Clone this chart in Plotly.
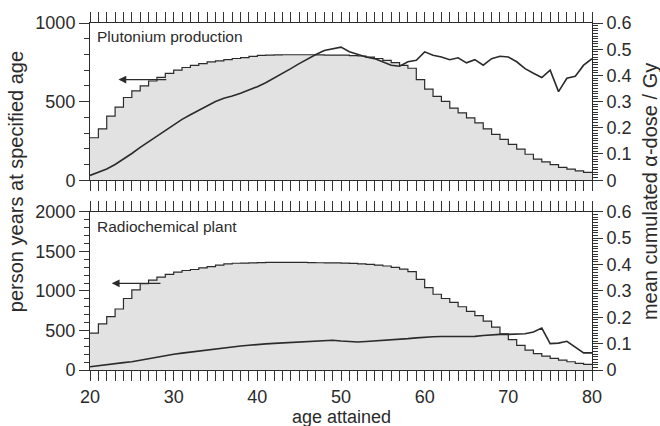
import plotly.graph_objects as go

# ---------------- data ----------------
ages_steps = list(range(20, 81))          # step edges 20..80
ages_dose = list(range(20, 81))

pu_person_years = [270, 327, 407, 465, 526, 568, 600, 631, 654, 679,
                   700, 717, 731, 742, 753, 759, 767, 774, 780, 788,
                   794, 796, 797, 798, 798, 798, 798, 797, 796, 796,
                   795, 793, 790, 783, 774, 762, 748, 730, 712, 640,
                   579, 533, 501, 459, 428, 396, 365, 327, 291, 260,
                   228, 197, 165, 134, 117, 99, 82, 71, 59, 50]
pu_dose = [0.018, 0.030, 0.043, 0.060, 0.080, 0.102, 0.125, 0.147, 0.169, 0.190,
           0.212, 0.232, 0.250, 0.267, 0.284, 0.300, 0.313, 0.321, 0.332, 0.344,
           0.357, 0.372, 0.389, 0.407, 0.426, 0.445, 0.464, 0.480, 0.495, 0.502,
           0.508, 0.490, 0.480, 0.470, 0.464, 0.452, 0.439, 0.435, 0.452, 0.458,
           0.490, 0.477, 0.470, 0.460, 0.467, 0.448, 0.460, 0.439, 0.464, 0.473,
           0.470, 0.452, 0.426, 0.408, 0.392, 0.420, 0.338, 0.389, 0.397, 0.439,
           0.464]

rc_person_years = [466, 583, 675, 771, 904, 1012, 1091, 1137, 1175, 1208,
                   1237, 1258, 1271, 1292, 1308, 1325, 1342, 1350, 1352, 1355,
                   1358, 1360, 1360, 1360, 1360, 1360, 1358, 1356, 1355, 1354,
                   1352, 1348, 1343, 1336, 1327, 1315, 1298, 1275, 1245, 1146,
                   1042, 958, 904, 854, 800, 742, 688, 617, 542, 458,
                   383, 312, 250, 208, 175, 146, 125, 104, 83, 71]
rc_dose = [0.0125, 0.017, 0.021, 0.025, 0.028, 0.031, 0.037, 0.044, 0.050, 0.055,
           0.060, 0.064, 0.068, 0.073, 0.077, 0.081, 0.084, 0.088, 0.091, 0.094,
           0.0975, 0.099, 0.101, 0.103, 0.105, 0.106, 0.108, 0.110, 0.1125, 0.113,
           0.110, 0.108, 0.106, 0.108, 0.110, 0.1125, 0.113, 0.115, 0.119, 0.122,
           0.125, 0.126, 0.127, 0.1275, 0.128, 0.128, 0.1275, 0.131, 0.134, 0.135,
           0.135, 0.136, 0.1375, 0.144, 0.159, 0.100, 0.102, 0.109, 0.0875, 0.065,
           0.065]

panel_labels = ["Plutonium production", "Radiochemical plant"]

# ---------------- layout geometry (pixels) ----------------
W, H = 660, 426
L, R, T, B = 90, 592, 19, 370
def px(x):
    return (x - L) / (R - L)
def py(y):
    return (B - y) / (B - T)

FONT = "Liberation Sans, Arial, Helvetica, sans-serif"
INK = "#2b2b2b"
TICK = "#333333"
FILL = "#e2e2e2"

fig = go.Figure()

def steps(vals):
    return vals + [vals[-1]]

# bottom panel (x, y left, y2 right)
fig.add_trace(go.Scatter(x=ages_steps, y=steps(rc_person_years), mode="lines",
                         line=dict(shape="hv", color=INK, width=1.2),
                         fill="tozeroy", fillcolor=FILL,
                         xaxis="x", yaxis="y"))
fig.add_trace(go.Scatter(x=ages_dose, y=rc_dose, mode="lines",
                         line=dict(color=INK, width=1.6),
                         xaxis="x", yaxis="y2"))
# top panel (x2, y3 left, y4 right)
fig.add_trace(go.Scatter(x=ages_steps, y=steps(pu_person_years), mode="lines",
                         line=dict(shape="hv", color=INK, width=1.2),
                         fill="tozeroy", fillcolor=FILL,
                         xaxis="x2", yaxis="y3"))
fig.add_trace(go.Scatter(x=ages_dose, y=pu_dose, mode="lines",
                         line=dict(color=INK, width=1.6),
                         xaxis="x2", yaxis="y4"))

top_dom = [py(178), 1.0]
bot_dom = [0.0, py(210)]

def minor(d):
    return dict(dtick=d, ticks="outside", ticklen=5, tickcolor=TICK, tickwidth=1)

xc = dict(range=[20, 80], showline=True, linecolor=INK, ticks="outside",
          ticklen=10, tickwidth=1, tickcolor=TICK, mirror="allticks",
          tickmode="linear", tick0=20, dtick=10, minor=minor(1), showgrid=False,
          zeroline=False)
yc = dict(showline=True, linecolor=INK, ticks="outside", ticklen=10, tickwidth=1,
          tickcolor=TICK, showgrid=False, zeroline=False, tickmode="linear", tick0=0)

fig.update_layout(
    width=W, height=H,
    margin=dict(l=L, r=W - R, t=T, b=H - B),
    plot_bgcolor="white", showlegend=False,
    font=dict(family=FONT, size=18, color=INK),
    xaxis=dict(**xc),
    xaxis2=dict(**xc, anchor="y3", showticklabels=False),
    yaxis=dict(**yc, domain=bot_dom, range=[0, 2000], dtick=500, minor=minor(100)),
    yaxis2=dict(**yc, domain=bot_dom, overlaying="y", side="right",
                range=[0, 0.6], dtick=0.1, minor=minor(0.01), anchor="x"),
    yaxis3=dict(**yc, domain=top_dom, range=[0, 1000], dtick=500,
                minor=minor(100), anchor="x2"),
    yaxis4=dict(**yc, domain=top_dom, overlaying="y3", side="right",
                range=[0, 0.6], dtick=0.1, minor=minor(0.01), anchor="x2"),
)

ann = []
ann.append(dict(text=panel_labels[0], xref="paper", yref="paper", x=px(95), y=py(33),
                xanchor="left", yanchor="middle", showarrow=False,
                font=dict(family=FONT, size=15.5, color=INK)))
ann.append(dict(text=panel_labels[1], xref="paper", yref="paper", x=px(95), y=py(225),
                xanchor="left", yanchor="middle", showarrow=False,
                font=dict(family=FONT, size=15.5, color=INK)))
ann.append(dict(text="person years at specified age", xref="paper", yref="paper",
                x=px(16), y=py(180), xanchor="center", yanchor="middle",
                textangle=-90, showarrow=False,
                font=dict(family=FONT, size=20, color=INK)))
ann.append(dict(text="mean cumulated α-dose / Gy", xref="paper", yref="paper",
                x=px(650), y=py(190), xanchor="center", yanchor="middle",
                textangle=-90, showarrow=False,
                font=dict(family=FONT, size=20, color=INK)))
ann.append(dict(text="age attained", xref="paper", yref="paper",
                x=0.5, y=py(418), xanchor="center", yanchor="middle", showarrow=False,
                font=dict(family=FONT, size=18, color=INK)))
# arrows pointing to the left axis
ann.append(dict(text="", x=23.4, y=640, xref="x2", yref="y3", ax=29.3, ay=640,
                axref="x2", ayref="y3", showarrow=True, arrowhead=2, arrowsize=1.3,
                arrowwidth=1.2, arrowcolor=INK))
ann.append(dict(text="", x=22.6, y=1096, xref="x", yref="y", ax=28.6, ay=1096,
                axref="x", ayref="y", showarrow=True, arrowhead=2, arrowsize=1.3,
                arrowwidth=1.2, arrowcolor=INK))
fig.update_layout(annotations=ann)

fig.write_html("out.html")
